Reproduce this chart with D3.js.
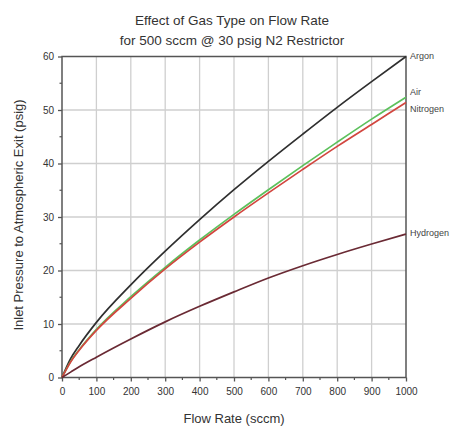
<!DOCTYPE html>
<html>
<head>
<meta charset="utf-8">
<script src="https://cdn.jsdelivr.net/npm/d3@7"></script>
<style>
  html, body { margin: 0; padding: 0; background: #fff; }
  svg { display: block; }
</style>
</head>
<body>
<svg id="chart" width="454" height="426"></svg>
<script>
const flow     = [0, 25, 50, 100, 200, 300, 400, 500, 600, 700, 800, 900, 1000];
const argon    = [0, 3.5, 6.0, 10.3, 17.3, 23.6, 29.5, 35.1, 40.4, 45.5, 50.5, 55.3, 60.0];
const air      = [0, 3.0, 5.2, 9.0, 15.1, 20.6, 25.7, 30.5, 35.1, 39.6, 44.0, 48.3, 52.4];
const nitrogen = [0, 2.9, 5.1, 8.8, 14.8, 20.3, 25.3, 30.0, 34.5, 38.9, 43.2, 47.3, 51.4];
const hydrogen = [0, 1.0, 2.0, 3.8, 7.2, 10.4, 13.3, 16.0, 18.6, 20.9, 23.0, 24.95, 26.8];
const seriesNames = ["Argon", "Air", "Nitrogen", "Hydrogen"];
const xTicks = [0, 100, 200, 300, 400, 500, 600, 700, 800, 900, 1000];
const yTicks = [0, 10, 20, 30, 40, 50, 60];
const titleLines = ["Effect of Gas Type on Flow Rate", "for 500 sccm @ 30 psig N2 Restrictor"];
const xLabel = "Flow Rate (sccm)";
const yLabel = "Inlet Pressure to Atmospheric Exit (psig)";

const seriesValues = [argon, air, nitrogen, hydrogen];
const colors = ["#2f2f2f", "#5cc15c", "#d2463f", "#6a2a34"];
const labelDy = [1, -4, 8, 0];

const svg = d3.select("#chart");
const m = {left: 62, right: 48, top: 56.5, bottom: 48.5};
const W = 454, H = 426;
const x = d3.scaleLinear().domain([0, 1000]).range([m.left, W - m.right]);
const y = d3.scaleLinear().domain([0, 60]).range([H - m.bottom, m.top]);
const font = "'Liberation Sans', Arial, sans-serif";

// gridlines
const g = svg.append("g");
g.selectAll(".vg").data(xTicks.slice(1, -1)).enter().append("line")
  .attr("x1", d => x(d)).attr("x2", d => x(d))
  .attr("y1", y(0)).attr("y2", y(60))
  .attr("stroke", "#cfcfcf").attr("stroke-width", 1.3);
g.selectAll(".hg").data(yTicks.slice(1, -1)).enter().append("line")
  .attr("x1", x(0)).attr("x2", x(1000))
  .attr("y1", d => y(d)).attr("y2", d => y(d))
  .attr("stroke", "#cfcfcf").attr("stroke-width", 1.3);

// minor ticks
const xMinor = d3.range(50, 1000, 100);
const yMinor = d3.range(5, 60, 10);
svg.append("g").selectAll("line").data(xMinor).enter().append("line")
  .attr("x1", d => x(d)).attr("x2", d => x(d))
  .attr("y1", y(0)).attr("y2", y(0) + 2.5)
  .attr("stroke", "#555").attr("stroke-width", 1.2);
svg.append("g").selectAll("line").data(yMinor).enter().append("line")
  .attr("y1", d => y(d)).attr("y2", d => y(d))
  .attr("x1", x(0)).attr("x2", x(0) - 2.5)
  .attr("stroke", "#555").attr("stroke-width", 1.2);

// axes
const xAxis = d3.axisBottom(x).tickValues(xTicks).tickSize(4).tickPadding(6).tickFormat(d3.format("d"));
const yAxis = d3.axisLeft(y).tickValues(yTicks).tickSize(4).tickPadding(4).tickFormat(d3.format("d"));
const xa = svg.append("g").attr("transform", `translate(0,${y(0)})`).call(xAxis);
const ya = svg.append("g").attr("transform", `translate(${x(0)},0)`).call(yAxis);
[xa, ya].forEach(a => {
  a.select(".domain").remove();
  a.selectAll(".tick line").attr("stroke", "#555").attr("stroke-width", 1.3);
  a.selectAll(".tick text").attr("fill", "#333").style("font-family", font).style("font-size", "10px");
});

// frame
svg.append("rect")
  .attr("x", x(0)).attr("y", y(60))
  .attr("width", x(1000) - x(0)).attr("height", y(0) - y(60))
  .attr("fill", "none").attr("stroke", "#555").attr("stroke-width", 1.5);

// lines
const line = d3.line().x((d, i) => x(flow[i])).y(d => y(d)).curve(d3.curveMonotoneX);
seriesValues.forEach((vals, k) => {
  svg.append("path").datum(vals)
    .attr("d", line)
    .attr("fill", "none")
    .attr("stroke", colors[k])
    .attr("stroke-width", 1.7);
});
// series labels
seriesNames.forEach((name, k) => {
  const vals = seriesValues[k];
  svg.append("text")
    .attr("x", x(1000) + 4)
    .attr("y", y(vals[vals.length - 1]) + labelDy[k])
    .attr("dy", "0.2em")
    .attr("fill", "#444")
    .style("font-family", font).style("font-size", "9px")
    .text(name);
});

// titles
titleLines.forEach((t, i) => {
  svg.append("text")
    .attr("x", 232).attr("y", 25 + i * 20)
    .attr("text-anchor", "middle")
    .attr("fill", "#333")
    .style("font-family", font).style("font-size", "13.5px")
    .text(t);
});
svg.append("text")
  .attr("x", 234).attr("y", 423)
  .attr("text-anchor", "middle").attr("fill", "#333")
  .style("font-family", font).style("font-size", "13px")
  .text(xLabel);
svg.append("text")
  .attr("transform", `translate(23,${(y(0) + y(60)) / 2 - 2}) rotate(-90)`)
  .attr("text-anchor", "middle").attr("fill", "#333")
  .style("font-family", font).style("font-size", "13px")
  .text(yLabel);
</script>
</body>
</html>
